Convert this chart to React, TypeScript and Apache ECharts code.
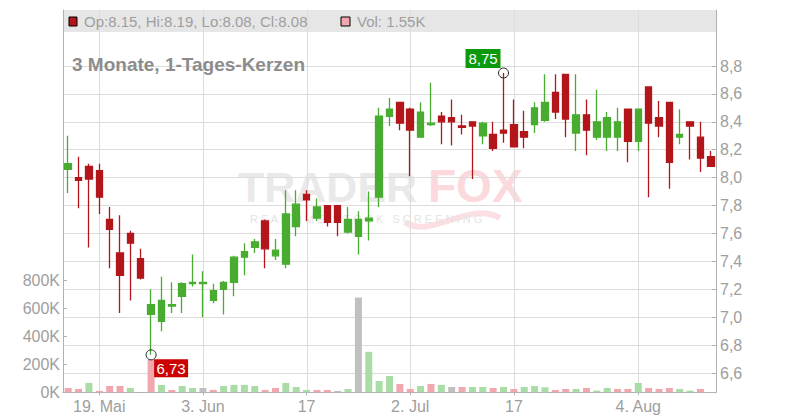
import React, { useEffect, useRef } from "react";
import * as echarts from "echarts";

// ---------- data ----------
const dates = [
  "2025-05-14", "2025-05-15", "2025-05-16", "2025-05-19", "2025-05-20", "2025-05-21", "2025-05-22", "2025-05-23",
  "2025-05-27", "2025-05-28", "2025-05-29", "2025-05-30",
  "2025-06-02", "2025-06-03", "2025-06-04", "2025-06-05", "2025-06-06", "2025-06-09", "2025-06-10", "2025-06-11",
  "2025-06-12", "2025-06-13", "2025-06-16", "2025-06-17", "2025-06-18", "2025-06-20", "2025-06-23", "2025-06-24",
  "2025-06-25", "2025-06-26", "2025-06-27", "2025-06-30",
  "2025-07-01", "2025-07-02", "2025-07-03", "2025-07-07", "2025-07-08", "2025-07-09", "2025-07-10", "2025-07-11",
  "2025-07-14", "2025-07-15", "2025-07-16", "2025-07-17", "2025-07-18", "2025-07-21", "2025-07-22", "2025-07-23",
  "2025-07-24", "2025-07-25", "2025-07-28", "2025-07-29", "2025-07-30", "2025-07-31",
  "2025-08-01", "2025-08-04", "2025-08-05", "2025-08-06", "2025-08-07", "2025-08-08", "2025-08-11", "2025-08-12",
  "2025-08-13",
];

const opens = [
  8.06, 8.0, 8.08, 8.05, 7.7, 7.46, 7.6, 7.42, 7.02, 6.97,
  7.08, 7.15, 7.24, 7.24, 7.12, 7.2, 7.25, 7.43, 7.5, 7.69,
  7.44, 7.38, 7.65, 7.88, 7.71, 7.8, 7.8, 7.61, 7.58, 7.69,
  7.86, 8.44, 8.54, 8.49, 8.29, 8.38, 8.44, 8.43, 8.37, 8.4,
  8.3, 8.31, 8.34, 8.38, 8.33, 8.38, 8.41, 8.61, 8.74, 8.32,
  8.45, 8.29, 8.29, 8.29, 8.49, 8.26, 8.65, 8.43, 8.54, 8.29,
  8.4, 8.29, 8.15,
];
const highs = [
  8.3, 8.15, 8.1, 8.1, 7.79, 7.73, 7.62, 7.49, 7.2, 7.29,
  7.25, 7.25, 7.45, 7.33, 7.24, 7.26, 7.44, 7.53, 7.56, 7.7,
  7.56, 7.91, 7.91, 7.91, 7.85, 7.8, 7.8, 7.79, 7.76, 7.9,
  8.5, 8.57, 8.54, 8.5, 8.54, 8.68, 8.47, 8.56, 8.45, 8.4,
  8.4, 8.4, 8.75, 8.56, 8.48, 8.54, 8.74, 8.74, 8.74, 8.74,
  8.56, 8.63, 8.47, 8.5, 8.49, 8.49, 8.65, 8.55, 8.54, 8.49,
  8.4, 8.4, 8.19,
];
const lows = [
  7.89, 7.78, 7.5, 7.74, 7.35, 7.03, 7.12, 7.27, 6.73, 6.9,
  7.03, 7.03, 7.22, 7.0, 7.1, 7.02, 7.15, 7.3, 7.46, 7.35,
  7.41, 7.35, 7.58, 7.69, 7.69, 7.65, 7.58, 7.6, 7.45, 7.55,
  7.79, 8.37, 8.34, 8.01, 8.29, 8.37, 8.24, 8.23, 8.31, 7.99,
  8.24, 8.19, 8.25, 8.22, 8.21, 8.32, 8.4, 8.42, 8.29, 8.19,
  8.16, 8.27, 8.19, 8.19, 8.11, 8.19, 7.86, 8.29, 7.92, 8.24,
  8.13, 8.04, 8.08,
];
const closes = [
  8.1, 7.98, 7.99, 7.86, 7.63, 7.3, 7.53, 7.28, 7.09, 7.12,
  7.09, 7.24, 7.25, 7.25, 7.19, 7.25, 7.43, 7.47, 7.54, 7.49,
  7.48, 7.74, 7.81, 7.84, 7.79, 7.68, 7.68, 7.7, 7.7, 7.71,
  8.44, 8.49, 8.39, 8.34, 8.47, 8.39, 8.4, 8.4, 8.36, 8.37,
  8.39, 8.21, 8.32, 8.22, 8.29, 8.5, 8.54, 8.47, 8.42, 8.45,
  8.34, 8.4, 8.43, 8.4, 8.26, 8.49, 8.39, 8.37, 8.11, 8.31,
  8.37, 8.14, 8.08,
];
// volume in thousands
const volumesK = [
  31, 24, 67, 10, 45, 45, 31, 0, 233, 53,
  17, 45, 31, 31, 17, 45, 53, 53, 45, 17,
  31, 67, 38, 17, 17, 17, 10, 24, 679, 290,
  81, 117, 60, 24, 45, 60, 53, 38, 38, 38,
  38, 31, 38, 24, 38, 45, 36, 17, 24, 24,
  31, 12, 31, 24, 24, 67, 31, 24, 31, 24,
  12, 24, 1.55,
];
const prevClose = 8.2;

const tickLabels: Record<string, string> = {
  "2025-05-19": "19. Mai",
  "2025-06-03": "3. Jun",
  "2025-06-17": "17",
  "2025-07-02": "2. Jul",
  "2025-07-17": "17",
  "2025-08-04": "4. Aug",
};

const priceMin = 6.6;
const priceMax = 8.8;
const priceStep = 0.2;
const volMax = 800000;
const volStep = 200000;

const titleText = "3 Monate, 1-Tages-Kerzen";

// ---------- style ----------
const FONT = "'Liberation Sans', Arial, Helvetica, sans-serif";
const UP = "#48ac30";
const DOWN = "#b3161a";
const VOL_UP = "#aadca6";
const VOL_DOWN = "#f1a7ae";
const VOL_FLAT = "#c0c0c0";
const GRID = "#dcdcdc";
const AXIS = "#b0b0b0";
const TEXT = "#9e9e9e";

const PLOT_L = 63;
const PLOT_W = 653;
const PLOT_TOP = 10;
const PLOT_BOTTOM = 392.3;

function volColor(i: number) {
  const prev = i === 0 ? prevClose : closes[i - 1];
  const d = Math.round(closes[i] * 100) - Math.round(prev * 100);
  return d > 0 ? VOL_UP : d < 0 ? VOL_DOWN : VOL_FLAT;
}

export default function App() {
  const ref = useRef<HTMLDivElement>(null);

  useEffect(() => {
    if (!ref.current) return;
    const chart = echarts.init(ref.current, undefined, { renderer: "svg" });
    const isTick = (i: number) => tickLabels[dates[i]] !== undefined;

    chart.setOption({
      animation: false,
      backgroundColor: "#ffffff",
      grid: [
        { left: PLOT_L, width: PLOT_W, top: 66, height: 307 },
        { left: PLOT_L, width: PLOT_W, top: 280.7, height: PLOT_BOTTOM - 280.7 },
        { left: PLOT_L, width: PLOT_W, top: PLOT_TOP, height: PLOT_BOTTOM - PLOT_TOP },
      ],
      xAxis: [
        { type: "category", gridIndex: 0, data: dates, boundaryGap: true, show: false },
        { type: "category", gridIndex: 1, data: dates, boundaryGap: true, show: false },
        {
          type: "category",
          gridIndex: 2,
          data: dates,
          boundaryGap: true,
          axisLine: { show: true, lineStyle: { color: AXIS, width: 1 } },
          axisTick: {
            show: true,
            alignWithLabel: true,
            interval: (i: number) => isTick(i),
            length: 3,
            lineStyle: { color: AXIS },
          },
          axisLabel: {
            show: true,
            interval: (i: number) => isTick(i),
            formatter: (v: string) => tickLabels[v] ?? "",
            color: TEXT,
            fontSize: 16,
            fontFamily: FONT,
            margin: 6,
          },
          splitLine: { show: false },
        },
      ],
      yAxis: [
        {
          type: "value",
          gridIndex: 0,
          position: "right",
          min: priceMin,
          max: priceMax,
          interval: priceStep,
          axisLine: { show: false },
          axisTick: { show: true, inside: true, length: 4, lineStyle: { color: AXIS } },
          axisLabel: {
            formatter: (v: number) => v.toFixed(1).replace(".", ","),
            color: TEXT,
            fontSize: 16,
            fontFamily: FONT,
            margin: 4,
          },
          splitLine: { show: true, lineStyle: { color: GRID, width: 1 } },
        },
        {
          type: "value",
          gridIndex: 1,
          position: "left",
          min: 0,
          max: volMax,
          interval: volStep,
          axisLine: { show: false },
          axisTick: { show: true, inside: true, length: 4, lineStyle: { color: AXIS } },
          axisLabel: {
            formatter: (v: number) => Math.round(v / 1000) + "K",
            color: TEXT,
            fontSize: 16,
            fontFamily: FONT,
            margin: 3,
          },
          splitLine: { show: false },
        },
        {
          type: "value",
          gridIndex: 2,
          position: "left",
          min: 0,
          max: 1,
          axisLine: { show: true, lineStyle: { color: AXIS } },
          axisTick: { show: false },
          axisLabel: { show: false },
          splitLine: { show: false },
        },
        {
          type: "value",
          gridIndex: 2,
          position: "right",
          min: 0,
          max: 1,
          axisLine: { show: true, lineStyle: { color: AXIS } },
          axisTick: { show: false },
          axisLabel: { show: false },
          splitLine: { show: false },
        },
      ],
      series: [
        {
          type: "bar",
          xAxisIndex: 1,
          yAxisIndex: 1,
          barWidth: 7,
          z: 2,
          data: volumesK.map((v, i) => ({ value: v * 1000, itemStyle: { color: volColor(i) } })),
        },
        {
          type: "candlestick",
          xAxisIndex: 0,
          yAxisIndex: 0,
          barWidth: 7,
          z: 3,
          data: dates.map((_, i) => [opens[i], closes[i], lows[i], highs[i]]),
          itemStyle: {
            color: UP,
            color0: DOWN,
            borderColor: UP,
            borderColor0: DOWN,
            borderWidth: 1.3,
          },
        },
      ],
    });

    // ----- graphics computed through the chart's own scales -----
    const n = dates.length;
    const last = n - 1;
    const hiIdx = highs.indexOf(Math.max(...highs));
    const loIdx = lows.indexOf(Math.min(...lows));
    const hp = chart.convertToPixel({ xAxisIndex: 0, yAxisIndex: 0 }, [hiIdx, highs[hiIdx]]) as number[];
    const lp = chart.convertToPixel({ xAxisIndex: 0, yAxisIndex: 0 }, [loIdx, lows[loIdx]]) as number[];
    const fmt = (v: number) => v.toFixed(2).replace(".", ",");

    const vLines = dates
      .map((d, i) => (tickLabels[d] ? i : -1))
      .filter((i) => i >= 0)
      .map((i) => {
        const x = Math.round(chart.convertToPixel({ xAxisIndex: 2 }, i) as number) + 0.5;
        return {
          type: "line",
          z: 0,
          silent: true,
          shape: { x1: x, y1: PLOT_TOP, x2: x, y2: PLOT_BOTTOM },
          style: { stroke: GRID, lineWidth: 1 },
        };
      });

    const legendText = `Op:${opens[last].toFixed(2)}, Hi:${highs[last].toFixed(2)}, Lo:${lows[last].toFixed(2)}, Cl:${closes[last].toFixed(2)}`;
    const volText = `Vol: ${volumesK[last].toFixed(2)}K`;

    chart.setOption({
      graphic: {
        elements: [
          // watermark
          {
            type: "text",
            z: -2,
            silent: true,
            x: 238,
            y: 208,
            style: { text: "TRADER", fill: "#e9e9e9", font: `bold 43px ${FONT}`, textVerticalAlign: "bottom" },
          },
          {
            type: "bezierCurve",
            z: -2,
            silent: true,
            shape: { x1: 405, y1: 222, cpx1: 430, cpy1: 240, cpx2: 470, cpy2: 200, x2: 500, y2: 218 },
            style: { stroke: "#fcdfe2", lineWidth: 6, fill: "none" },
          },
          {
            type: "text",
            z: -2,
            silent: true,
            x: 428,
            y: 209,
            style: { text: "FOX", fill: "#fbd9dc", font: `bold 46px ${FONT}`, textVerticalAlign: "bottom" },
          },
          {
            type: "text",
            z: -2,
            silent: true,
            x: 250,
            y: 213,
            style: {
              text: "R E A L T I M E   S T O C K   S C R E E N I N G",
              fill: "#e4e4e4",
              font: `11px ${FONT}`,
            },
          },
          // header band
          {
            type: "rect",
            z: -1,
            silent: true,
            shape: { x: PLOT_L, y: PLOT_TOP, width: PLOT_W, height: 22 },
            style: { fill: "#e6e6e6" },
          },
          ...vLines,
          {
            type: "rect",
            z: 5,
            shape: { x: 69, y: 17, width: 8, height: 9 },
            style: { fill: DOWN, stroke: "#000", lineWidth: 1 },
          },
          {
            type: "text",
            z: 5,
            x: 84,
            y: 21.5,
            style: { text: legendText, fill: TEXT, font: `15px ${FONT}`, textVerticalAlign: "middle" },
          },
          {
            type: "rect",
            z: 5,
            shape: { x: 341, y: 17, width: 9, height: 9 },
            style: { fill: VOL_DOWN, stroke: "#000", lineWidth: 1 },
          },
          {
            type: "text",
            z: 5,
            x: 357,
            y: 21.5,
            style: { text: volText, fill: TEXT, font: `15px ${FONT}`, textVerticalAlign: "middle" },
          },
          // title
          {
            type: "text",
            z: 5,
            x: 72,
            y: 55,
            style: { text: titleText, fill: "#8c8c8c", font: `bold 19px ${FONT}`, textVerticalAlign: "alphabetic" },
          },
          // high annotation
          {
            type: "rect",
            z: 6,
            shape: { x: hp[0] - 38, y: hp[1] - 24, width: 35, height: 19 },
            style: { fill: "#0c9a0c" },
          },
          {
            type: "text",
            z: 7,
            x: hp[0] - 20.5,
            y: hp[1] - 14.5,
            style: {
              text: fmt(highs[hiIdx]),
              fill: "#ffffff",
              font: `15px ${FONT}`,
              textAlign: "center",
              textVerticalAlign: "middle",
            },
          },
          {
            type: "circle",
            z: 7,
            shape: { cx: hp[0], cy: hp[1], r: 5 },
            style: { fill: "none", stroke: "#222", lineWidth: 1 },
          },
          // low annotation
          {
            type: "rect",
            z: 6,
            shape: { x: lp[0] + 3, y: lp[1] + 4.5, width: 34, height: 18 },
            style: { fill: "#cc0000" },
          },
          {
            type: "text",
            z: 7,
            x: lp[0] + 20,
            y: lp[1] + 13.5,
            style: {
              text: fmt(lows[loIdx]),
              fill: "#ffffff",
              font: `15px ${FONT}`,
              textAlign: "center",
              textVerticalAlign: "middle",
            },
          },
          {
            type: "circle",
            z: 7,
            shape: { cx: lp[0], cy: lp[1], r: 5 },
            style: { fill: "none", stroke: "#222", lineWidth: 1 },
          },
        ],
      },
    });

    return () => chart.dispose();
  }, []);

  return (
    <div
      ref={ref}
      style={{ position: "fixed", left: 0, top: 0, width: 800, height: 420, background: "#fff" }}
    />
  );
}
